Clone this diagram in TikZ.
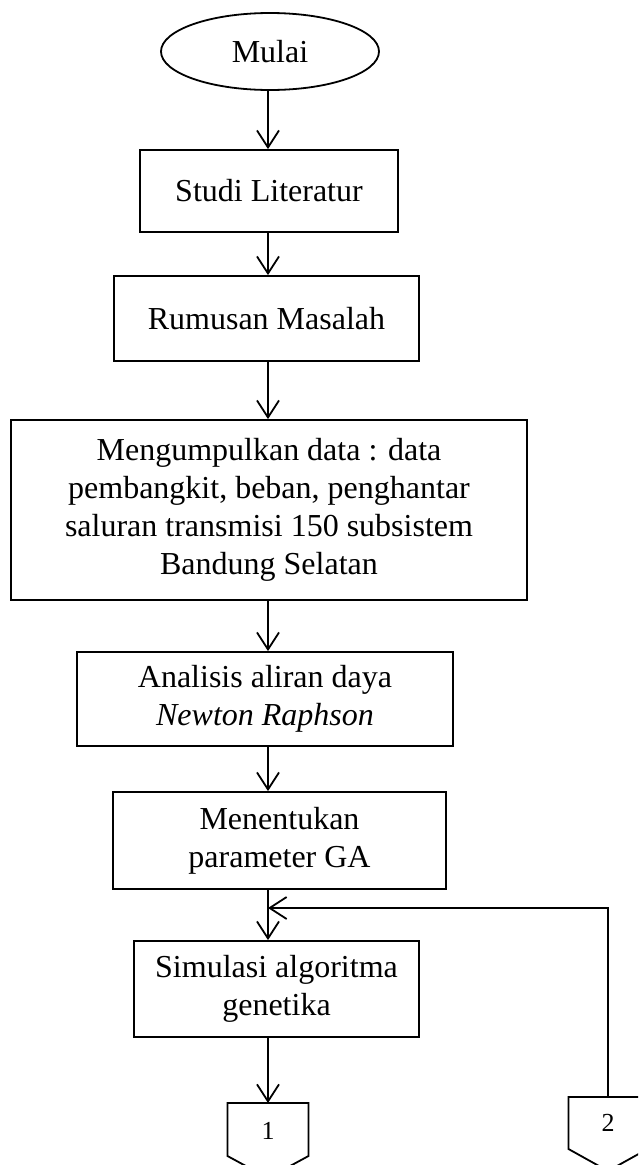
\documentclass[tikz,border=0pt]{standalone}
\usepackage{fontspec}
\setmainfont{Liberation Serif}
\usetikzlibrary{shapes.geometric,arrows.meta}
\begin{document}
\begin{tikzpicture}[x=1pt,y=-1pt,
  box/.style={draw,line width=1.8pt,rectangle,align=center,inner sep=0pt,font=\fontsize{32}{38}\selectfont},
  term/.style={draw,line width=1.8pt,ellipse,inner sep=0pt,font=\fontsize{32}{38}\selectfont},
  arr/.style={line width=1.8pt,-{Straight Barb[length=17pt,width=22pt]}},
  conn/.style={draw,line width=1.8pt,line join=miter},
  lbl/.style={inner sep=0pt,font=\fontsize{26}{30}\selectfont}]
\useasboundingbox (0,0) rectangle (638,1165);
\clip (0,0) rectangle (638,1165);
\coordinate (spine) at (268,0);
\node[term,minimum width=218pt,minimum height=77pt] (mulai) at (270,51.5) {Mulai};
\node[box,minimum width=258pt,minimum height=82pt] (studi) at (269,191) {Studi Literatur};
\node[box,minimum width=305pt,minimum height=85pt] (rumusan) at (266.5,318.5) {Rumusan Masalah};
\node[box,minimum width=516pt,minimum height=180pt] (data) at (269,510) {Mengumpulkan data : data\\pembangkit, beban, penghantar\\saluran transmisi 150 subsistem\\Bandung Selatan};
\node[box,minimum width=376pt,minimum height=94pt] (analisis) at (265,699) {Analisis aliran daya\\\textit{Newton Raphson}};
\node[box,minimum width=333pt,minimum height=97pt] (param) at (279.5,840.5) {Menentukan\\parameter GA};
\node[box,minimum width=285pt,minimum height=96pt] (simulasi) at (276.5,989) {Simulasi algoritma\\genetika};
\coordinate (join) at (268,908);
\coordinate (c1top) at (268,1103);
\coordinate (c2top) at (608,1097);
\node[lbl] (c1) at (268,1131) {1};
\node[lbl] (c2) at (608,1123) {2};
\draw[conn] (c1top) -- ++(40.5,0) -- ++(0,53) -- ++(-40.5,22) -- ++(-40.5,-22) -- ++(0,-53) -- cycle;
\draw[conn] (c2top) -- ++(39.5,0) -- ++(0,52) -- ++(-39.5,22) -- ++(-39.5,-22) -- ++(0,-52) -- cycle;
\draw[arr] (mulai.south -| spine) -- (studi.north -| spine);
\draw[arr] (studi.south -| spine) -- (rumusan.north -| spine);
\draw[arr] (rumusan.south -| spine) -- (data.north -| spine);
\draw[arr] (data.south -| spine) -- (analisis.north -| spine);
\draw[arr] (analisis.south -| spine) -- (param.north -| spine);
\draw[arr] (param.south -| spine) -- (simulasi.north -| spine);
\draw[arr] (simulasi.south -| spine) -- (c1top);
\draw[arr] (c2top) |- (join);
\end{tikzpicture}
\end{document}
